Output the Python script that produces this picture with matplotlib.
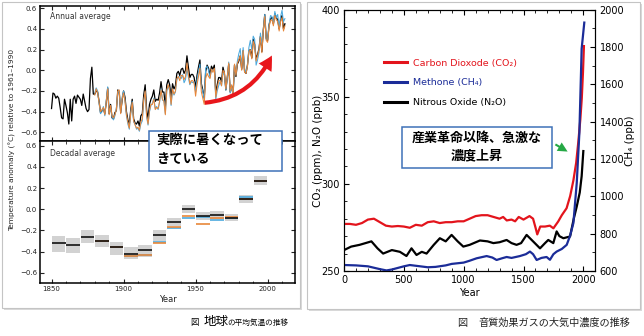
import numpy as np
import matplotlib
matplotlib.use('Agg')
import matplotlib.pyplot as plt
from matplotlib.patches import Rectangle, FancyArrowPatch, ArrowStyle
from matplotlib.lines import Line2D
from matplotlib.ticker import MultipleLocator

JP = ['Noto Sans CJK JP', 'DejaVu Sans']
W, H = 644, 336

# ---------------------------------------------------------------------------
# Left chart: temperature anomaly (annual, decadal)
# ---------------------------------------------------------------------------
years_black = np.arange(1850, 2013)
temp_black = [
    -0.37, -0.22, -0.23, -0.27, -0.25, -0.27, -0.36, -0.46, -0.47, -0.28,
    -0.34, -0.41, -0.52, -0.28, -0.49, -0.28, -0.25, -0.32, -0.24, -0.26,
    -0.28, -0.34, -0.23, -0.30, -0.37, -0.40, -0.38, -0.08, 0.03, -0.23,
    -0.23, -0.20, -0.21, -0.30, -0.41, -0.39, -0.37, -0.42, -0.31, -0.17,
    -0.42, -0.33, -0.46, -0.47, -0.41, -0.39, -0.19, -0.21, -0.41, -0.29,
    -0.20, -0.26, -0.40, -0.48, -0.52, -0.38, -0.28, -0.47, -0.51, -0.52,
    -0.49, -0.54, -0.44, -0.42, -0.24, -0.14, -0.38, -0.47, -0.33, -0.28,
    -0.25, -0.19, -0.30, -0.28, -0.29, -0.22, -0.11, -0.21, -0.21, -0.35,
    -0.14, -0.09, -0.14, -0.27, -0.13, -0.18, -0.15, -0.03, -0.01, -0.05,
    0.01, 0.02, -0.03, 0.00, 0.14, 0.03, -0.07, -0.04, -0.04, -0.07,
    -0.17, -0.05, 0.03, 0.10, -0.13, -0.19, -0.27, -0.01, 0.05, 0.02,
    -0.05, 0.04, 0.01, 0.05, -0.22, -0.14, -0.07, -0.07, -0.11, 0.03,
    -0.03, -0.19, -0.07, 0.06, -0.21, -0.15, -0.24, 0.05, -0.06, 0.06,
    0.09, 0.14, 0.01, 0.19, -0.01, -0.03, 0.05, 0.19, 0.20, 0.12,
    0.30, 0.25, 0.11, 0.15, 0.21, 0.33, 0.18, 0.39, 0.54, 0.31,
    0.29, 0.44, 0.50, 0.51, 0.45, 0.55, 0.51, 0.49, 0.40, 0.49,
    0.53, 0.40, 0.45,
]
years_other = np.arange(1880, 2013)
temp_orange = [
    -0.24, -0.18, -0.22, -0.31, -0.40, -0.38, -0.36, -0.43, -0.30, -0.18,
    -0.43, -0.34, -0.44, -0.46, -0.43, -0.38, -0.20, -0.19, -0.42, -0.28,
    -0.22, -0.30, -0.43, -0.50, -0.56, -0.41, -0.31, -0.49, -0.53, -0.56,
    -0.55, -0.58, -0.50, -0.47, -0.29, -0.20, -0.44, -0.52, -0.39, -0.33,
    -0.33, -0.28, -0.38, -0.36, -0.37, -0.30, -0.19, -0.28, -0.30, -0.43,
    -0.19, -0.14, -0.19, -0.33, -0.18, -0.23, -0.20, -0.08, -0.06, -0.10,
    -0.05, -0.05, -0.09, -0.06, 0.07, -0.04, -0.13, -0.10, -0.10, -0.13,
    -0.25, -0.14, -0.06, 0.02, -0.21, -0.27, -0.33, -0.08, -0.03, -0.06,
    -0.08, 0.01, -0.02, 0.02, -0.26, -0.17, -0.10, -0.10, -0.15, 0.00,
    -0.02, -0.18, -0.06, 0.07, -0.20, -0.14, -0.23, 0.06, -0.05, 0.07,
    0.10, 0.14, 0.00, 0.19, -0.02, -0.03, 0.04, 0.18, 0.20, 0.11,
    0.28, 0.24, 0.09, 0.14, 0.20, 0.32, 0.17, 0.38, 0.52, 0.29,
    0.27, 0.42, 0.48, 0.49, 0.43, 0.53, 0.49, 0.47, 0.38, 0.47,
    0.51, 0.38, 0.43,
]
temp_blue = [
    -0.22, -0.17, -0.20, -0.32, -0.42, -0.40, -0.35, -0.44, -0.29, -0.16,
    -0.41, -0.36, -0.45, -0.48, -0.44, -0.37, -0.21, -0.20, -0.40, -0.26,
    -0.20, -0.29, -0.44, -0.52, -0.57, -0.42, -0.30, -0.50, -0.52, -0.57,
    -0.56, -0.59, -0.52, -0.49, -0.30, -0.21, -0.45, -0.53, -0.40, -0.34,
    -0.32, -0.27, -0.37, -0.35, -0.38, -0.31, -0.18, -0.29, -0.29, -0.42,
    -0.20, -0.15, -0.20, -0.34, -0.19, -0.24, -0.21, -0.09, -0.07, -0.06,
    -0.08, -0.04, -0.12, -0.09, 0.02, -0.07, -0.14, -0.11, -0.12, -0.11,
    -0.21, -0.09, -0.01, 0.06, -0.16, -0.20, -0.28, 0.02, 0.04, 0.00,
    -0.07, 0.00, 0.00, 0.01, -0.28, -0.20, -0.15, -0.11, -0.15, -0.03,
    -0.04, -0.19, -0.08, 0.08, -0.22, -0.16, -0.24, 0.04, -0.04, 0.09,
    0.16, 0.21, 0.03, 0.22, 0.02, -0.02, 0.05, 0.22, 0.29, 0.20,
    0.33, 0.30, 0.05, 0.10, 0.17, 0.36, 0.25, 0.39, 0.54, 0.30,
    0.30, 0.44, 0.53, 0.52, 0.45, 0.57, 0.51, 0.54, 0.41, 0.52,
    0.58, 0.47, 0.50,
]

dec_start = np.arange(1850, 2010, 10)
dec_black = [-0.32, -0.34, -0.26, -0.30, -0.36, -0.42, -0.39, -0.245,
             -0.12, 0.00, -0.065, -0.055, -0.08, 0.095, 0.27, 0.46]
dec_low = [-0.40, -0.41, -0.32, -0.36, -0.43, -0.47, -0.45, -0.30,
           -0.155, -0.04, -0.10, -0.09, -0.115, 0.06, 0.225, 0.42]
dec_high = [-0.25, -0.27, -0.20, -0.245, -0.31, -0.36, -0.34, -0.20,
            -0.085, 0.035, -0.025, -0.02, -0.045, 0.13, 0.31, 0.49]
dec_start_other = np.arange(1880, 2010, 10)
dec_orange = [-0.30, -0.36, -0.44, -0.43, -0.315, -0.17, -0.065, -0.14,
              -0.085, -0.075, 0.10, 0.27, 0.44]
dec_blue = [-0.30, -0.36, -0.44, -0.43, -0.31, -0.175, -0.085, -0.07,
            -0.10, -0.08, 0.118, 0.27, 0.48]

# ---------------------------------------------------------------------------
# Right chart: greenhouse gas concentrations
# ---------------------------------------------------------------------------
co2_year = [0, 50, 100, 150, 200, 250, 300, 350, 400, 450, 500, 550, 600,
            650, 700, 750, 800, 850, 900, 950, 1000, 1050, 1100, 1150, 1200,
            1250, 1300, 1330, 1360, 1400, 1430, 1460, 1500, 1550, 1580, 1600,
            1615, 1640, 1680, 1720, 1750, 1790, 1820, 1860, 1890, 1917, 1940,
            1958, 1975, 1987, 1997, 2005]
co2_ppm = [277, 277, 276.5, 277.5, 279.5, 280, 278, 276, 275.5, 275.8, 275.5,
           274.8, 276.5, 276, 278, 278.5, 277.5, 278, 278, 278.5, 278.5, 280,
           281.5, 282, 282, 281, 280, 281, 279, 279.5, 278.5, 281, 279.5,
           281.5, 280, 275, 271, 275.5, 275.5, 276, 274.5, 278.4, 282, 286,
           293, 302, 312, 324, 337, 349, 364, 379]

ch4_year = [0, 100, 200, 300, 355, 400, 500, 550, 600, 700, 765, 850, 900,
            1000, 1050, 1108, 1192, 1240, 1275, 1320, 1359, 1400, 1470, 1520,
            1554, 1580, 1610, 1650, 1693, 1721, 1750, 1777, 1820, 1861, 1890,
            1917, 1945, 1967, 1986, 2008]
ch4_ppb = [632, 630, 625, 610, 603, 608, 625, 632, 628, 620, 622, 630, 638,
           645, 655, 668, 680, 672, 659, 668, 675, 670, 680, 690, 704, 690,
           659, 670, 675, 660, 690, 704, 718, 740, 790, 857, 1072, 1341,
           1790, 1930]

n2o_year = [0, 60, 130, 229, 280, 327, 400, 467, 522, 564, 606, 650, 690,
            750, 801, 850, 899, 950, 997, 1050, 1136, 1200, 1248, 1300, 1359,
            1400, 1442, 1480, 1526, 1580, 1638, 1680, 1707, 1749, 1777, 1800,
            1833, 1889, 1920, 1945, 1970, 1986, 2000]
n2o_ppb = [262, 264, 265, 267, 263, 260, 262, 261, 258.6, 263, 259.2, 261,
           260, 265, 268.8, 267, 270.7, 267, 264, 265, 267.5, 267, 266, 266.5,
           267.8, 266, 265, 266, 270.7, 267, 263, 266, 267.8, 266, 272.7, 270,
           268.8, 269.8, 280, 287, 295, 304.4, 318.8]

gas_labels = ['Carbon Dioxode (CO\u2082)', 'Methone (CH\u2084)', 'Nitrous Oxide (N\u2082O)']
gas_colors = ['#E3141C', '#1B2C98', '#000000']


def px_rect(x0, y0, x1, y1):
    return [x0 / W, 1 - y1 / H, (x1 - x0) / W, (y1 - y0) / H]


def fxy(x, y):
    return (x / W, 1 - y / H)


fig = plt.figure(figsize=(W / 100, H / 100), dpi=100)
fig.patch.set_facecolor('white')

# panel frames with a soft shadow
for (x0, y0, x1, y1) in [(2, 2, 300, 308), (307, 2, 640, 309)]:
    fig.add_artist(Rectangle(fxy(x0 + 2, y1 + 2), (x1 - x0) / W, (y1 - y0) / H,
                             transform=fig.transFigure, facecolor='#DADADA',
                             edgecolor='none', zorder=-3))
    fig.add_artist(Rectangle(fxy(x0, y1), (x1 - x0) / W, (y1 - y0) / H,
                             transform=fig.transFigure, facecolor='white',
                             edgecolor='#C4C4C4', lw=0.8, zorder=-2))

tick_kw = dict(direction='in', top=True, right=True, labelsize=5,
               colors='#222222', pad=2)

# --- annual panel ---
ax1 = fig.add_axes(px_rect(40, 6, 295, 141))
ax1.plot(years_black, temp_black, color='black', lw=0.9, zorder=2)
ax1.plot(years_other, temp_blue, color='#4BA9DE', lw=0.75, zorder=3)
ax1.plot(years_other, temp_orange, color='#E8873A', lw=0.75, zorder=4)
ax1.set_xlim(1842, 2019)
ax1.set_ylim(-0.684, 0.622)
ax1.set_yticks([-0.6, -0.4, -0.2, 0.0, 0.2, 0.4, 0.6])
ax1.xaxis.set_major_locator(MultipleLocator(50))
ax1.xaxis.set_minor_locator(MultipleLocator(10))
ax1.tick_params(which='both', labelbottom=False, **tick_kw)
ax1.tick_params(which='major', length=3, width=0.8)
ax1.tick_params(which='minor', length=1.8, width=0.6)
ax1.text(0.04, 0.925, 'Annual average', transform=ax1.transAxes,
         fontsize=5.5, color='#333333', va='center')

# --- decadal panel ---
ax2 = fig.add_axes(px_rect(40, 141, 295, 283))
ax2.bar(dec_start + 5, np.array(dec_high) - np.array(dec_low), width=9.4,
        bottom=dec_low, color='#D2D2D2', zorder=1)
ax2.hlines(dec_blue, dec_start_other + 0.3, dec_start_other + 9.7,
           color='#4BA9DE', lw=1.2, zorder=2)
ax2.hlines(dec_orange, dec_start_other + 0.3, dec_start_other + 9.7,
           color='#E8873A', lw=1.2, zorder=3)
ax2.hlines(dec_black, dec_start + 0.3, dec_start + 9.7,
           color='#111111', lw=1.2, zorder=4)
ax2.set_xlim(1842, 2019)
ax2.set_ylim(-0.697, 0.644)
ax2.set_yticks([-0.6, -0.4, -0.2, 0.0, 0.2, 0.4, 0.6])
ax2.set_xticks([1850, 1900, 1950, 2000])
ax2.xaxis.set_minor_locator(MultipleLocator(10))
ax2.tick_params(which='both', **tick_kw)
ax2.tick_params(which='major', length=3, width=0.8)
ax2.tick_params(which='minor', length=1.8, width=0.6)
ax2.set_xlabel('Year', fontsize=6, color='#222222', labelpad=2)
ax2.text(0.04, 0.915, 'Decadal average', transform=ax2.transAxes,
         fontsize=5.5, color='#333333', va='center')

for ax in (ax1, ax2):
    for sp in ax.spines.values():
        sp.set_linewidth(1.1)

fig.text(12 / W, 1 - 140 / H, 'Temperature anomaly (\u00b0C) relative to 1961\u20131990',
         rotation=90, fontsize=5.3, color='#222222', ha='center', va='center')

# --- gas concentration chart ---
ax3 = fig.add_axes(px_rect(344, 9.5, 595.3, 271))
ax4 = ax3.twinx()
ax3.plot(co2_year, co2_ppm, color=gas_colors[0], lw=1.6, zorder=3)
ax3.plot(n2o_year, n2o_ppb, color=gas_colors[2], lw=1.6, zorder=3)
ax4.plot(ch4_year, ch4_ppb, color=gas_colors[1], lw=1.6)
ax3.set_xlim(0, 2100)
ax3.set_ylim(250, 400)
ax4.set_ylim(600, 2000)
ax3.set_xticks([0, 500, 1000, 1500, 2000])
ax3.xaxis.set_minor_locator(MultipleLocator(100))
ax3.set_yticks([250, 300, 350, 400])
ax3.yaxis.set_minor_locator(MultipleLocator(10))
ax4.set_yticks(range(600, 2001, 200))
ax4.yaxis.set_minor_locator(MultipleLocator(100))
ax3.tick_params(which='both', direction='in', top=True, right=False,
                labelsize=7, pad=3)
ax4.tick_params(which='both', direction='in', labelsize=7, pad=3)
for a in (ax3, ax4):
    a.tick_params(which='major', length=3.5, width=0.8)
    a.tick_params(which='minor', length=2, width=0.6)
ax3.set_xlabel('Year', fontsize=7, labelpad=2)

handles = [Line2D([], [], color=c, lw=2.2) for c in gas_colors]
ax3.legend(handles, gas_labels, loc='upper left', bbox_to_anchor=(0.127, 0.845),
           frameon=False, fontsize=6.8, handlelength=2.4, handletextpad=0.6,
           labelspacing=1.15, borderpad=0.4, labelcolor=gas_colors)

fig.text(318 / W, 1 - 151 / H, 'CO\u2082 (ppm), N\u2082O (ppb)', rotation=90,
         fontsize=7.5, ha='center', va='center')
fig.text(630 / W, 1 - 141 / H, 'CH\u2084 (ppb)', rotation=90,
         fontsize=7.5, ha='center', va='center')

# --- callouts ---
for (x0, y0, x1, y1) in [(149, 131, 282, 171), (402, 127, 552, 168)]:
    fig.add_artist(Rectangle(fxy(x0, y1), (x1 - x0) / W, (y1 - y0) / H,
                             transform=fig.transFigure, facecolor='white',
                             edgecolor='#3E72B8', lw=1.1, zorder=5))
fig.text(*fxy(156, 140), '実際に暑くなって', family=JP, fontsize=9.6,
         weight='bold', va='center', ha='left', zorder=6)
fig.text(*fxy(156, 159), 'きている', family=JP, fontsize=9.6,
         weight='bold', va='center', ha='left', zorder=6)
fig.text(*fxy(477, 138), '産業革命以降、急激な', family=JP, fontsize=9.4,
         weight='bold', va='center', ha='center', zorder=6)
fig.text(*fxy(477, 155), '濃度上昇', family=JP, fontsize=9.4,
         weight='bold', va='center', ha='center', zorder=6)

fig.add_artist(FancyArrowPatch(fxy(202, 103), fxy(273, 53),
                               transform=fig.transFigure,
                               connectionstyle='arc3,rad=0.3',
                               arrowstyle=ArrowStyle.Simple(head_length=1.0,
                                                            head_width=1.1,
                                                            tail_width=0.3),
                               mutation_scale=10, color='#E8161B', lw=0,
                               zorder=5))
fig.add_artist(FancyArrowPatch(fxy(553, 143), fxy(570, 153),
                               transform=fig.transFigure,
                               arrowstyle=ArrowStyle.Simple(head_length=0.7,
                                                            head_width=0.7,
                                                            tail_width=0.15),
                               mutation_scale=10, color='#25A845', lw=0,
                               zorder=5))

# --- captions ---
fig.text(*fxy(190, 322), '図', family=JP, fontsize=6, va='center')
fig.text(*fxy(204, 321), '地球', family=JP, fontsize=9, va='center')
fig.text(*fxy(227, 322.5), 'の平均気温の推移', family=JP, fontsize=5.5, va='center')
fig.text(*fxy(457, 323), '図', family=JP, fontsize=7.3, va='center',
         color='#222222')
fig.text(*fxy(478, 323), '音質効果ガスの大気中濃度の推移', family=JP,
         fontsize=7.3, va='center', color='#222222')

fig.savefig('out.png', dpi=100)
